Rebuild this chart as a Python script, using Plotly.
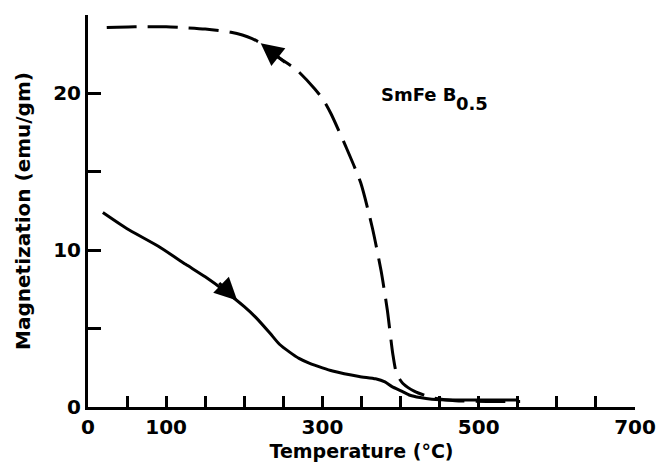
import plotly.graph_objects as go

# Heating curve (solid) and cooling curve (dashed) for SmFeB0.5
heat_T = [19, 49, 90, 125, 150, 175, 200, 215, 233, 245, 258, 270, 283, 300, 313,
          347, 368, 380, 389, 402, 412, 425, 440, 470, 510, 550]
heat_M = [12.4, 11.4, 10.25, 9.1, 8.3, 7.4, 6.4, 5.7, 4.7, 4.0, 3.5, 3.1, 2.8, 2.5, 2.3,
          1.95, 1.8, 1.6, 1.3, 1.0, 0.75, 0.6, 0.5, 0.45, 0.45, 0.45]

cool_T = [24, 60, 100, 120, 150, 183, 210, 221, 242, 267, 290, 301, 311, 330, 349,
          364, 375, 383, 390, 395, 403, 418, 440, 470, 510, 553]
cool_M = [24.2, 24.25, 24.25, 24.2, 24.1, 23.9, 23.5, 23.2, 22.35, 21.5, 20.3, 19.6, 18.7,
          16.6, 14.3, 11.4, 8.7, 6.2, 3.4, 2.1, 1.5, 1.0, 0.6, 0.4, 0.35, 0.35]

x_labels = [0, 100, 300, 500, 700]
y_labels = [0, 10, 20]

# Direction arrows along each curve: (tail T, tail M, head T, head M)
heat_arrow = (166, 8.0, 191, 6.8)
cool_arrow = (254, 21.9, 221, 23.2)

font_family = "DejaVu Sans"
bold = dict(family=font_family, color="black", weight="bold")

fig = go.Figure()
fig.add_trace(go.Scatter(
    x=heat_T, y=heat_M, mode="lines",
    line=dict(color="black", width=3, shape="spline", smoothing=0.6),
    showlegend=False,
))
fig.add_trace(go.Scatter(
    x=cool_T, y=cool_M, mode="lines",
    line=dict(color="black", width=3, shape="spline", smoothing=0.6, dash="30px,11px"),
    showlegend=False,
))

for tx, ty, hx, hy in (heat_arrow, cool_arrow):
    fig.add_annotation(
        x=hx, y=hy, ax=tx, ay=ty, xref="x", yref="y", axref="x", ayref="y",
        text="", showarrow=True, arrowhead=2, arrowsize=1.5, arrowwidth=3,
        arrowcolor="black", standoff=0, startstandoff=0,
    )

# Compound label: formula with a full-height, lowered stoichiometry index
fig.add_annotation(
    x=372, y=19.95, xref="x", yref="y", xanchor="left", yanchor="middle",
    text="SmFe B", showarrow=False, font=dict(size=18, **bold),
)
fig.add_annotation(
    x=469, y=19.95, xref="x", yref="y", xanchor="left", yanchor="middle",
    yshift=-9, text="0.5", showarrow=False, font=dict(size=18, **bold),
)

fig.update_layout(
    width=668, height=471,
    margin=dict(l=88, r=24, t=15, b=60),
    paper_bgcolor="white", plot_bgcolor="white",
    font=bold,
    xaxis=dict(
        range=[0, 700], showgrid=False, zeroline=False,
        showline=True, linecolor="black", linewidth=3,
        ticks="inside", ticklen=11, tickwidth=3, tickcolor="black",
        tickmode="array", tickvals=x_labels, ticktext=[str(v) for v in x_labels],
        minor=dict(dtick=50, tick0=0, ticks="inside", ticklen=11, tickwidth=3,
                   tickcolor="black", showgrid=False),
        tickfont=dict(size=20, **bold),
        title=dict(text="Temperature (°C)", standoff=7, font=dict(size=19, **bold)),
    ),
    yaxis=dict(
        range=[0, 25], showgrid=False, zeroline=False,
        showline=True, linecolor="black", linewidth=3,
        ticks="inside", ticklen=13, tickwidth=3, tickcolor="black",
        tickmode="array", tickvals=y_labels, ticktext=[str(v) for v in y_labels],
        minor=dict(dtick=5, tick0=0, ticks="inside", ticklen=13, tickwidth=3,
                   tickcolor="black", showgrid=False),
        tickfont=dict(size=20, **bold),
        title=dict(text="Magnetization (emu/gm)", standoff=18, font=dict(size=20, **bold)),
    ),
)

fig.write_html("out.html")
